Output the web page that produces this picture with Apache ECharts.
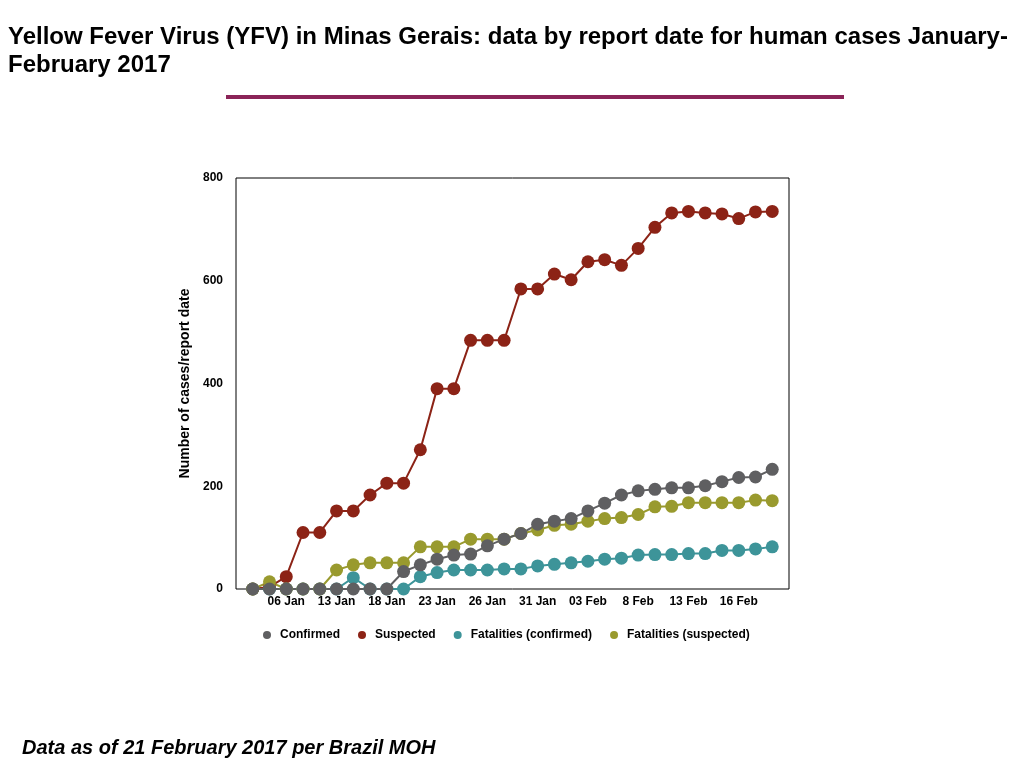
<!DOCTYPE html>
<html lang="en">
<head>
    <meta charset="utf-8">
    <title>Yellow Fever Virus (YFV) in Minas Gerais</title>
    <script src="https://cdn.jsdelivr.net/npm/echarts@6/dist/echarts.min.js"></script>
    <style>
        html, body { margin: 0; padding: 0; background: #fff; }
        #main { width: 1024px; height: 768px; }
    </style>
</head>
<body>
    <div id="main"></div>

    <script type="text/javascript">

    // report dates (one per point), only every third one is labelled
    var reportDates = ['03 Jan','04 Jan','06 Jan','09 Jan','12 Jan','13 Jan','16 Jan','17 Jan',
        '18 Jan','19 Jan','20 Jan','23 Jan','24 Jan','25 Jan','26 Jan','27 Jan','30 Jan','31 Jan',
        '01 Feb','02 Feb','03 Feb','06 Feb','07 Feb','8 Feb','09 Feb','10 Feb','13 Feb','14 Feb',
        '15 Feb','16 Feb','17 Feb','20 Feb'];
    var labelIndex = [2, 5, 8, 11, 14, 17, 20, 23, 26, 29];

    var confirmed = [0,0,0,0,0,0,0,0,0,34,47,58,66,68,84,97,108,126,132,137,152,167,183,191,
        194,197,197,201,209,217,218,233];
    var suspected = [0,4,24,110,110,152,152,183,206,206,271,390,390,484,484,484,584,584,613,602,
        637,641,630,663,704,732,735,732,730,721,734,735];
    var fatalConfirmed = [0,0,0,0,0,0,22,0,0,0,24,32,37,37,37,39,39,45,48,51,54,58,60,66,67,67,
        69,69,75,75,78,82];
    var fatalSuspected = [0,14,0,0,0,37,47,51,51,51,82,82,82,97,97,97,108,115,124,126,132,137,
        139,145,160,161,168,168,168,168,173,172];

    var yTicks = [0, 200, 400, 600, 800];

    var font = 'Liberation Sans, Arial, Helvetica, sans-serif';

    function toPoints(arr) {
        return arr.map(function (v, i) { return [i, v]; });
    }

    function lineSeries(name, color, values) {
        return {
            name: name,
            type: 'line',
            data: toPoints(values),
            symbol: 'circle',
            symbolSize: 13,
            itemStyle: { color: color },
            lineStyle: { color: color, width: 2 },
            emphasis: { disabled: true }
        };
    }

    var myChart = echarts.init(document.getElementById('main'));

    myChart.setOption({
        animation: false,
        textStyle: { fontFamily: font },
        title: [{
            text: 'Yellow Fever Virus (YFV) in Minas Gerais: data by report date for human cases January-\nFebruary 2017',
            left: 3,
            top: 18,
            textStyle: { fontFamily: font, fontSize: 24, fontWeight: 'bold', color: '#000', lineHeight: 28 }
        }, {
            text: 'Data as of 21 February 2017 per Brazil MOH',
            left: 17,
            top: 733,
            textStyle: { fontFamily: font, fontSize: 20, fontWeight: 'bold', fontStyle: 'italic', color: '#000' }
        }],
        graphic: [{
            type: 'rect',
            shape: { x: 226, y: 95, width: 618, height: 4 },
            style: { fill: '#8b2458' }
        }],
        legend: {
            data: ['Confirmed', 'Suspected', 'Fatalities (confirmed)', 'Fatalities (suspected)'],
            icon: 'circle',
            itemWidth: 16,
            itemHeight: 8,
            itemGap: 18,
            left: 258,
            top: 624,
            textStyle: { fontFamily: font, fontSize: 12, fontWeight: 'bold', color: '#000' }
        },
        grid: {
            left: 236,
            right: 235,
            top: 178,
            bottom: 179,
            show: true,
            borderColor: '#000',
            borderWidth: 1,
            containLabel: false
        },
        xAxis: {
            type: 'value',
            min: -1,
            max: 32,
            splitLine: { show: false },
            axisLine: { show: false },
            axisTick: { show: false },
            axisLabel: {
                customValues: labelIndex,
                formatter: function (v) { return reportDates[v]; },
                margin: 7,
                fontFamily: font,
                fontSize: 12,
                fontWeight: 'bold',
                color: '#000'
            }
        },
        yAxis: {
            type: 'value',
            min: 0,
            max: 800,
            interval: 200,
            name: 'Number of cases/report date',
            nameLocation: 'middle',
            nameRotate: 90,
            nameGap: 37,
            nameTextStyle: { fontFamily: font, fontSize: 14, fontWeight: 'bold', color: '#000' },
            splitLine: { show: false },
            axisLine: { show: false },
            axisTick: { show: false },
            axisLabel: {
                margin: 13,
                fontFamily: font,
                fontSize: 12,
                fontWeight: 'bold',
                color: '#000',
                formatter: function (v) { return yTicks.indexOf(v) >= 0 ? String(v) : ''; }
            }
        },
        // drawing order: confirmed cases end up on top
        series: [
            lineSeries('Suspected', '#8c2316', suspected),
            lineSeries('Fatalities (confirmed)', '#3d9499', fatalConfirmed),
            lineSeries('Fatalities (suspected)', '#999a2e', fatalSuspected),
            lineSeries('Confirmed', '#5f5f61', confirmed)
        ]
    });

    </script>
</body>
</html>
